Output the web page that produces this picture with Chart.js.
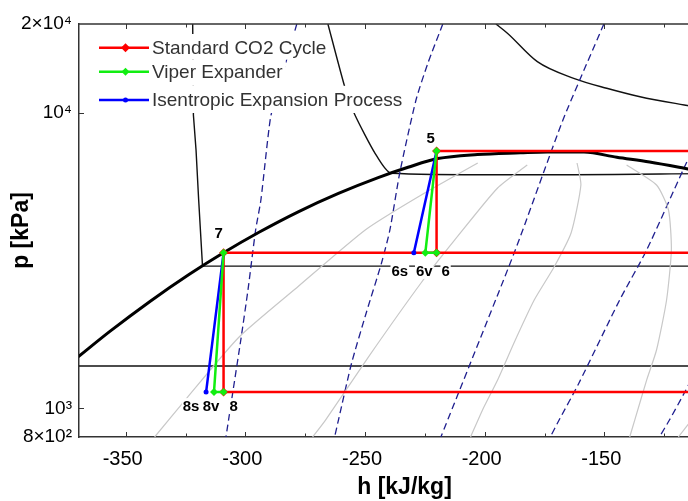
<!DOCTYPE html>
<html>
<head>
<meta charset="utf-8">
<script src="https://cdn.jsdelivr.net/npm/chart.js@4.4.1/dist/chart.umd.min.js"></script>
<style>
  html, body { margin: 0; padding: 0; background: #fff; overflow: hidden; }
  #wrap { width: 688px; height: 501px; overflow: hidden; }
  canvas { display: block; }
</style>
</head>
<body>
<div id="wrap"><canvas id="ph" width="734" height="501"></canvas></div>
<script>
"use strict";

const FONT = '"Liberation Sans", Arial, sans-serif';

// axes
const hMin = -369.5, hMax = -97.5;
const pMin = 800, pMax = 20000;
const xTicks = [-350, -325, -300, -275, -250, -225, -200, -175, -150, -125];
const yTickValues = [800, 1000, 10000, 20000];
const yTickLabels = ["8×10²", "10³", "10⁴", "2×10⁴"];
const yTickMarks = [1000, 10000];

// cycle state points (h in kJ/kg, p in kPa)
const stateNames = ["5", "6", "6v", "6s", "7", "8", "8v", "8s"];
const stateH = [-220.1, -220.1, -224.8, -229.6, -309.1, -309.1, -313.1, -316.4];
const stateP = [7430, 3360, 3360, 3360, 3360, 1135, 1135, 1135];

// the three cycles
const seriesNames = ["Standard CO2 Cycle", "Viper Expander", "Isentropic Expansion Process"];
const stdH = [-90, -220.1, -220.1, -90, -309.1, -309.1, -90];
const stdP = [7430, 7430, 3360, 3360, 3360, 1135, 1135];
const viperH = [-220.1, -224.8, -220.1, null, -309.1, -313.1, -309.1];
const viperP = [7430, 3360, 3360, null, 3360, 1135, 1135];
const isenH = [-220.1, -229.6, null, -309.1, -316.4];
const isenP = [7430, 3360, null, 3360, 1135];

// saturation dome
const domeH = [-369.9, -356.6, -340.0, -323.4, -309.3, -294.3, -277.7, -261.1, -244.5, -232.0, -219.6, -203.0, -185.1, -173.9, -158.5, -144.8, -131.1, -116.6, -103.3];
const domeP = [1493, 1822, 2297, 2844, 3357, 3945, 4636, 5341, 6041, 6546, 7006, 7234, 7330, 7376, 7371, 7077, 6823, 6496, 6189];

// isotherms
const t1H = [-90, -317.9, -319.5, -320.6, -321.7, -322.0];
const t1P = [3030, 3030, 5074, 7491, 9841, 20000];
const t2H = [-90, -239.0, -245.8, -254.2, -258.3, -265.5];
const t2P = [6247, 6247, 7302, 9841, 12118, 20000];
const t3H = [-372, -90];
const t3P = [1391, 1391];
const t4H = [-195.3, -190.5, -178.0, -162.8, -149.0, -135.1, -116.6, -97];
const t4P = [20000, 18610, 14909, 13100, 12118, 11349, 10638, 10000];

// quality lines
const q1H = [-202.9, -227.9, -249.9, -277.7, -302.6, -324.2, -337.9];
const q1P = [6769, 5194, 4017, 2595, 1744, 1090, 800];
const q2H = [-182.2, -194.6, -212.5, -226.6, -248.6, -266.5, -271.9];
const q2P = [6664, 5571, 3715, 2657, 1492, 913, 800];
const q3H = [-161.4, -159.8, -163.9, -171.0, -179.3, -187.2, -194.6, -200.9, -205.9];
const q3P = [6769, 5703, 3924, 3010, 2327, 1704, 1248, 988, 800];
const q4H = [-140.7, -128.2, -123.2, -122.0, -124.0, -128.2, -132.3, -137.3, -139.4];
const q4P = [6664, 5703, 4693, 3437, 2327, 1576, 1248, 913, 800];
const q5H = [-113.6, -119.1];
const q5P = [913, 800];

// isentropes
const s1H = [-278.5, -286.0, -289.5, -293.5, -295.7, -298.9, -301.9, -305.1, -308.1];
const s1P = [20000, 12241, 9613, 5074, 4017, 2516, 1704, 1154, 800];
const s2H = [-217.5, -223.7, -228.7, -235.5, -239.6, -243.1, -249.5, -255.6, -261.1, -262.7];
const s2P = [20000, 14758, 11060, 6261, 4017, 3105, 2103, 1424, 913, 800];
const s3H = [-150.2, -167.3, -187.2, -218.3];
const s3P = [20000, 9464, 3437, 800];
const s4H = [-111.6, -117.1, -132.3, -143.6, -160.6, -168.9, -172.6];
const s4P = [7973, 6411, 3437, 2327, 1219, 913, 800];
const s5H = [-111.6, -116.6, -122.8, -127.0];
const s5P = [1349, 1127, 913, 800];

// label placement (pixel offsets from the state point)
const labelOffsets = [[-6, -13], [9, 18], [-1, 18], [-14, 18], [-5, -20], [10, 14], [-3, 14], [-15, 14]];
const legendRows = [[47.7, 34, 59.7], [71.7, 59.7, 85.8], [100, 85.8, 113]];

function pts(hs, ps) {
    return hs.map((h, i) => (h === null ? { x: null, y: null } : { x: h, y: ps[i] }));
}

function bg(hs, ps, color, width, extra) {
    return Object.assign({
        data: pts(hs, ps),
        showLine: true,
        borderColor: color,
        borderWidth: width,
        pointRadius: 0,
        tension: 0.2,
        order: 10
    }, extra || {});
}

const cycleStyles = [
    { color: "#ff0000", style: "rectRot", r: 4.5 },
    { color: "#11ee11", style: "rectRot", r: 4 },
    { color: "#0000ff", style: "circle", r: 2.5 }
];

const dashed = { borderDash: [7, 4] };

const datasets = [
    {
        label: seriesNames[0], data: pts(stdH, stdP), showLine: true,
        borderColor: "#ff0000", borderWidth: 2.5, backgroundColor: "#ff0000",
        pointStyle: "rectRot", pointRadius: [0, 4.5, 4.5, 0, 4.5, 4.5, 0], pointBorderWidth: 0,
        tension: 0, order: 2
    },
    {
        label: seriesNames[1], data: pts(viperH, viperP), showLine: true,
        borderColor: "#11ee11", borderWidth: 2.5, backgroundColor: "#11ee11",
        pointStyle: "rectRot", pointRadius: [4, 4, 4, 0, 4, 4, 4], pointBorderWidth: 0,
        tension: 0, order: 0
    },
    {
        label: seriesNames[2], data: pts(isenH, isenP), showLine: true,
        borderColor: "#0000ff", borderWidth: 2.5, backgroundColor: "#0000ff",
        pointStyle: "circle", pointRadius: [0, 2.5, 0, 0, 2.5], pointBorderWidth: 0,
        tension: 0, order: 1
    },
    bg(q1H, q1P, "#c8c8c8", 1.2),
    bg(q2H, q2P, "#c8c8c8", 1.2),
    bg(q3H, q3P, "#c8c8c8", 1.2),
    bg(q4H, q4P, "#c8c8c8", 1.2),
    bg(q5H, q5P, "#c8c8c8", 1.2),
    bg(s1H, s1P, "#1f1f8f", 1.3, dashed),
    bg(s2H, s2P, "#1f1f8f", 1.3, dashed),
    bg(s3H, s3P, "#1f1f8f", 1.3, dashed),
    bg(s4H, s4P, "#1f1f8f", 1.3, dashed),
    bg(s5H, s5P, "#1f1f8f", 1.3, dashed),
    bg(t1H, t1P, "#111", 1.4, { tension: 0 }),
    bg(t2H, t2P, "#111", 1.4, { tension: 0.2 }),
    bg(t3H, t3P, "#111", 1.4, { tension: 0 }),
    bg(t4H, t4P, "#111", 1.4, { cubicInterpolationMode: "monotone" }),
    bg(domeH, domeP, "#000", 3, { cubicInterpolationMode: "monotone", order: 5 })
];

function diamond(ctx, cx, cy, r) {
    ctx.beginPath();
    ctx.moveTo(cx, cy - r);
    ctx.lineTo(cx + r, cy);
    ctx.lineTo(cx, cy + r);
    ctx.lineTo(cx - r, cy);
    ctx.closePath();
    ctx.fill();
}

/**
 * Ram, inåtriktade ticks, punktetiketter och legend.
 */
const decorations = {
    id: "decorations",
    afterDatasetsDraw(chart) {
        const { ctx, chartArea: a, scales: { x, y } } = chart;
        ctx.save();

        ctx.strokeStyle = "#333";
        ctx.lineWidth = 1.5;
        ctx.beginPath();
        ctx.moveTo(a.left, a.top);
        ctx.lineTo(a.right, a.top);
        ctx.stroke();

        ctx.lineWidth = 1;
        ctx.beginPath();
        xTicks.forEach(v => {
            const px = Math.round(x.getPixelForValue(v)) + 0.5;
            const len = v % 50 === 0 ? 5 : 3.5;
            ctx.moveTo(px, a.bottom);
            ctx.lineTo(px, a.bottom - len);
            ctx.moveTo(px, a.top);
            ctx.lineTo(px, a.top + len);
        });
        yTickMarks.forEach(v => {
            const py = Math.round(y.getPixelForValue(v)) + 0.5;
            ctx.moveTo(a.left, py);
            ctx.lineTo(a.left + 5, py);
        });
        ctx.stroke();

        // state labels
        ctx.font = `bold 15px ${FONT}`;
        ctx.textAlign = "center";
        ctx.textBaseline = "middle";
        stateNames.forEach((name, i) => {
            const [dx, dy] = labelOffsets[i];
            const cx = x.getPixelForValue(stateH[i]) + dx;
            const cy = y.getPixelForValue(stateP[i]) + dy;
            const w = ctx.measureText(name).width;
            ctx.fillStyle = "#fff";
            ctx.fillRect(cx - w / 2 - 1, cy - 8, w + 2, 16);
            ctx.fillStyle = "#000";
            ctx.fillText(name, cx, cy + 1);
        });

        // legend
        ctx.font = `19px ${FONT}`;
        ctx.textAlign = "left";
        seriesNames.forEach((name, i) => {
            const [ry, top, bottom] = legendRows[i];
            const st = cycleStyles[i];
            const w = ctx.measureText(name).width;
            ctx.fillStyle = "#fff";
            ctx.fillRect(96, top, 152 + w + 3 - 96, bottom - top);
            ctx.strokeStyle = st.color;
            ctx.lineWidth = 2.5;
            ctx.beginPath();
            ctx.moveTo(99, ry);
            ctx.lineTo(149, ry);
            ctx.stroke();
            ctx.fillStyle = st.color;
            if (st.style === "rectRot") {
                diamond(ctx, 125.5, ry, st.r);
            } else {
                ctx.beginPath();
                ctx.arc(125.5, ry, st.r, 0, Math.PI * 2);
                ctx.fill();
            }
            ctx.fillStyle = "#333";
            ctx.fillText(name, 152, ry + 1);
        });

        ctx.restore();
    }
};

new Chart(document.getElementById("ph"), {
    type: "scatter",
    data: { datasets },
    options: {
        responsive: false,
        animation: false,
        events: [],
        layout: { padding: { top: 24, left: 0, right: 0, bottom: 0 } },
        plugins: { legend: { display: false }, tooltip: { enabled: false } },
        scales: {
            x: {
                type: "linear",
                min: hMin,
                max: hMax,
                afterBuildTicks: s => { s.ticks = xTicks.map(v => ({ value: v })); },
                afterFit: s => { s.height = 64; },
                grid: { display: true, drawOnChartArea: false, drawTicks: false },
                border: { display: true, color: "#333", width: 1.5 },
                ticks: {
                    autoSkip: false, maxRotation: 0, padding: 10, labelOffset: -3,
                    color: "#000", font: { size: 20, family: FONT },
                    callback: v => (v % 50 === 0 ? String(v) : "")
                },
                title: {
                    display: true, text: "h [kJ/kg]", color: "#000",
                    font: { size: 23, weight: "bold", family: FONT }, padding: 0
                }
            },
            y: {
                type: "logarithmic",
                min: pMin,
                max: pMax,
                afterBuildTicks: s => { s.ticks = yTickValues.map(v => ({ value: v })); },
                afterFit: s => { s.width = 79; },
                grid: { display: true, drawOnChartArea: false, drawTicks: false },
                border: { display: true, color: "#333", width: 1.5 },
                ticks: {
                    autoSkip: false, padding: 7, color: "#000", font: { size: 19, family: FONT },
                    callback: v => { const i = yTickValues.indexOf(v); return i < 0 ? "" : yTickLabels[i]; }
                },
                title: {
                    display: true, text: "p [kPa]", color: "#000",
                    font: { size: 23, weight: "bold", family: FONT }, padding: { top: 8, bottom: 0 }
                }
            }
        }
    },
    plugins: [decorations]
});
</script>
</body>
</html>
